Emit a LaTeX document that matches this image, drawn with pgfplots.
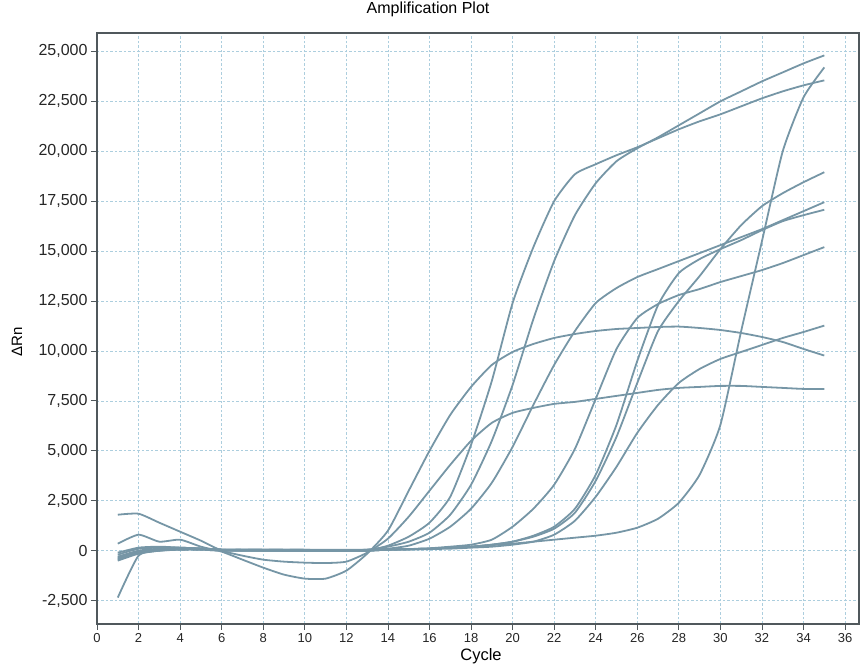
\documentclass[border=0pt]{standalone}
\usepackage{fontspec}
\setmainfont{Liberation Sans}
\usepackage{pgfplots}
\usepackage{pgfplotstable}
\pgfplotsset{compat=1.18}
\definecolor{curve}{RGB}{118,150,166}
\definecolor{gridc}{RGB}{172,206,222}
\definecolor{framec}{RGB}{80,88,92}

\pgfplotstableread{
c A B C D E F G H I J
1 -2350 -400 -300 -500 -200 -350 -100 -450 350 1800
2 -250 -100 0 -150 100 -50 150 -100 800 1850
3 0 0 100 0 150 50 200 50 450 1400
4 50 50 150 100 150 100 150 100 550 950
5 50 50 100 100 100 100 100 100 200 500
6 0 0 50 50 50 50 50 50 -50 0
7 0 0 50 50 50 0 50 50 -450 -250
8 0 0 50 0 50 0 50 50 -850 -450
9 0 0 50 0 50 0 0 50 -1200 -550
10 0 0 50 0 50 0 0 0 -1400 -600
11 0 0 50 0 0 0 0 0 -1400 -620
12 0 0 50 0 0 0 0 0 -1000 -550
13 0 50 50 0 50 0 0 0 -150 -100
14 250 200 50 50 100 50 50 50 1000 600
15 700 450 80 80 250 80 80 50 3000 1700
16 1400 900 100 100 600 100 120 80 5000 3000
17 2700 1800 150 150 1200 150 200 100 6800 4300
18 5300 3300 200 200 2100 200 300 150 8200 5500
19 8500 5500 280 300 3400 300 550 200 9300 6400
20 12400 8300 350 450 5200 450 1200 300 9950 6900
21 15200 11600 450 700 7300 750 2100 450 10350 7150
22 17500 14500 550 1100 9300 1200 3300 800 10650 7350
23 18850 16800 650 1900 11000 2100 5100 1500 10850 7450
24 19350 18400 750 3500 12400 3800 7600 2700 11000 7600
25 19800 19500 900 5700 13150 6300 10100 4200 11100 7750
26 20200 20150 1150 8400 13700 9500 11650 5900 11150 7900
27 20650 20700 1600 11000 14100 12300 12350 7300 11200 8050
28 21100 21300 2400 12500 14500 13900 12800 8400 11220 8150
29 21500 21900 3800 13750 14900 14600 13100 9100 11150 8200
30 21850 22500 6300 15100 15300 15100 13450 9600 11050 8250
31 22250 23000 11000 16300 15700 15550 13750 9950 10900 8250
32 22650 23500 15500 17250 16100 16050 14050 10300 10700 8200
33 23000 23950 20000 17900 16550 16500 14400 10650 10450 8150
34 23300 24400 22700 18450 17000 16800 14800 10950 10100 8100
35 23550 24800 24200 18950 17450 17070 15200 11270 9770 8100
}\data

\begin{document}
\begin{tikzpicture}
\path[use as bounding box] (-97pt,-42pt) rectangle (765pt,624pt);
\begin{axis}[
  at={(0pt,0pt)}, anchor=south west,
  scale only axis, width=762pt, height=591pt,
  xmin=0, xmax=36.67, ymin=-3672, ymax=25922,
  scaled y ticks=false, scaled x ticks=false,
  xtick={0,2,...,36},
  ytick={-2500,0,2500,5000,7500,10000,12500,15000,17500,20000,22500,25000},
  yticklabels={{-2,500},{0},{2,500},{5,000},{7,500},{10,000},{12,500},{15,000},{17,500},{20,000},{22,500},{25,000}},
  xtick pos=bottom, ytick pos=left,
  tick align=outside, major tick length=6pt,
  tick style={framec, line width=0.8pt},
  axis line style={framec, line width=1.1pt},
  grid=major,
  major grid style={gridc, dash pattern=on 2.5pt off 2pt, line width=0.7pt},
  /pgf/number format/assume math mode=true,
  xticklabel style={font=\fontsize{13}{15}\selectfont, text=black!85},
  yticklabel style={font=\fontsize{16}{18}\selectfont, text=black!85},
  title={Amplification Plot},
  title style={at={(axis description cs:0.4344,1.0305)}, anchor=center, font=\fontsize{16}{18}\selectfont},
  xlabel={Cycle},
  xlabel style={at={(axis description cs:0.504,-0.054)}, anchor=center, font=\fontsize{16.5}{18}\selectfont},
  ylabel={ΔRn},
  ylabel style={at={(axis description cs:-0.105,0.477)}, anchor=center, font=\fontsize{15}{17}\selectfont},
]
\pgfplotsset{cstyle/.style={curve, line width=1.8pt, mark=none, smooth, tension=0.35, line join=round}}
\addplot[cstyle] table[x=c,y=A]{\data};
\addplot[cstyle] table[x=c,y=B]{\data};
\addplot[cstyle] table[x=c,y=C]{\data};
\addplot[cstyle] table[x=c,y=D]{\data};
\addplot[cstyle] table[x=c,y=E]{\data};
\addplot[cstyle] table[x=c,y=F]{\data};
\addplot[cstyle] table[x=c,y=G]{\data};
\addplot[cstyle] table[x=c,y=H]{\data};
\addplot[cstyle] table[x=c,y=I]{\data};
\addplot[cstyle] table[x=c,y=J]{\data};
\end{axis}
\end{tikzpicture}
\end{document}
